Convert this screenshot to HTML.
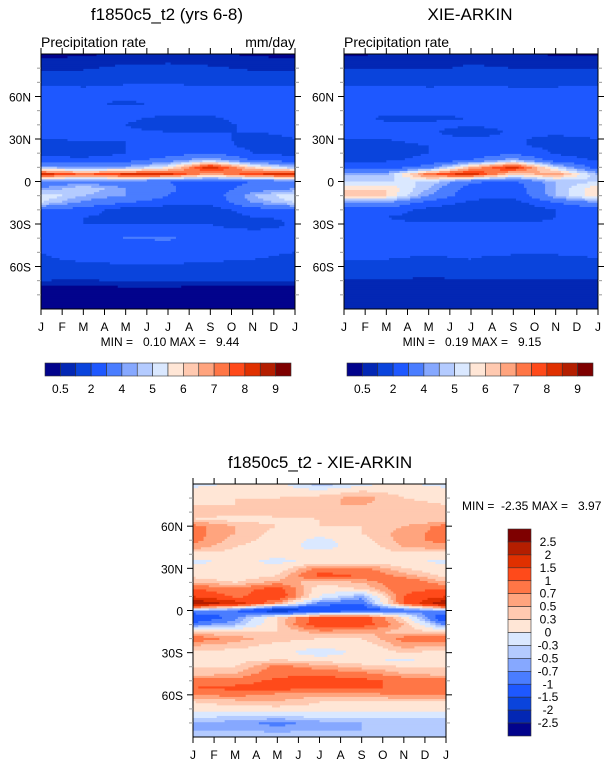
<!DOCTYPE html>
<html><head><meta charset="utf-8">
<style>
body{margin:0;background:#fff;width:611px;height:768px;overflow:hidden;font-family:"Liberation Sans",Arial,sans-serif;}
svg{position:absolute;left:0;top:0}
text{white-space:pre}
</style></head>
<body>
<svg id="chart" width="611" height="768" xmlns="http://www.w3.org/2000/svg" font-family="Liberation Sans, Arial, sans-serif" xml:space="preserve"></svg>
<script>
const months=["J","F","M","A","M","J","J","A","S","O","N","D","J"];
const timeCols=[0,2,4,6,8,10,12];
const lats=[];for(let l=90;l>=-90;l-=5)lats.push(l);
const precipLevels=[0.5,1,2,3,4,4.5,5,5.5,6,6.5,7,7.5,8,8.5,9];
const precipLabels=["0.5","2","4","5","6","7","8","9"];
const precipColors=["#02038c","#0327b4","#0a44dc","#1e58ff","#4a7dff","#86a8ff","#b4cbff","#dae8ff","#ffe6d6","#ffc9b0","#ffa47e","#ff7646","#ff4a1a","#e03000","#b41e00","#7e0000"];
const diffLevels=[-2.5,-2,-1.5,-1,-0.7,-0.5,-0.3,0,0.3,0.5,0.7,1,1.5,2,2.5];
const diffLabels=["-2.5","-2","-1.5","-1","-0.7","-0.5","-0.3","0","0.3","0.5","0.7","1","1.5","2","2.5"];
const diffColors=["#02038c","#0327b4","#0a44dc","#1e58ff","#4a7dff","#86a8ff","#b4cbff","#dae8ff","#ffe6d6","#ffc9b0","#ffa47e","#ff7646","#ff4a1a","#e03000","#b41e00","#7e0000"];
const modelValues=[
[.3,.4,.6,.7,.6,.4,.3],[.6,.7,.8,.9,.8,.7,.6],[.9,.9,1.2,1.2,1.1,.9,.9],[1.2,1.3,1.5,1.5,1.4,1.2,1.2],
[1.8,1.8,1.9,1.9,1.8,1.8,1.8],[2.2,2.1,2.2,2.3,2.2,2.2,2.2],[2.3,2.2,2.1,2.3,2.3,2.3,2.3],[2.3,2.1,1.9,2.1,2.3,2.3,2.3],
[2.2,2.2,2.2,2.2,2.3,2.3,2.2],[2.4,2.2,2.1,1.9,1.9,2.3,2.4],[2.3,2.1,2.0,1.7,1.7,2.2,2.3],[2.1,2.1,2.1,2.0,2.0,2.0,2.1],
[2.0,2.1,2.0,2.1,2.2,1.8,2.0],[1.7,1.6,2.0,2.1,2.3,1.8,1.7],[1.7,1.5,2.0,2.5,3.0,2.0,1.7],[2.5,2.3,2.6,3.5,4.7,3.0,2.5],
[4.5,4.0,4.3,5.5,8.6,6.0,4.5],[8.5,7.5,8.3,8.3,6.5,8.0,8.5],[3.5,3.5,3.5,3.0,2.5,3.0,3.5],[4.0,5.0,4.0,3.2,2.3,3.5,4.0],
[5.5,4.5,4.0,3.0,2.3,4.5,5.5],[5.0,3.8,3.0,2.5,2.2,4.0,5.0],[3.0,2.5,1.5,1.3,1.5,2.5,3.0],[2.1,2.0,1.8,1.4,1.5,2.0,2.1],
[2.1,2.0,2.0,2.0,2.0,1.6,2.1],[2.1,2.2,2.5,2.6,2.2,2.1,2.1],[2.2,2.3,3.1,3.2,2.2,2.2,2.2],[2.2,2.3,2.5,2.5,2.3,2.2,2.2],
[2.0,2.3,2.4,2.3,2.3,2.1,2.0],[1.9,2.1,2.2,2.2,2.1,2.0,1.9],[1.8,1.8,1.9,1.9,1.8,1.8,1.8],[1.4,1.5,1.6,1.7,1.5,1.4,1.4],
[1.0,.9,1.1,1.1,1.0,1.0,1.0],[.4,.4,.4,.4,.4,.4,.4],[.3,.3,.3,.3,.3,.3,.3],[.3,.3,.3,.3,.3,.3,.3],[.3,.3,.3,.3,.3,.3,.3]];
const obsValues=[
[.4,.5,.7,.8,.7,.4,.4],[.7,.8,.8,.9,.8,.7,.7],[.9,.9,.9,1.1,1.0,.9,.9],[1.3,1.3,1.3,1.5,1.4,1.3,1.3],
[1.8,1.8,1.8,1.9,1.8,1.8,1.8],[2.2,2.2,2.1,2.1,2.1,2.1,2.2],[2.2,2.2,2.2,2.2,2.2,2.2,2.2],[2.2,2.2,2.2,2.2,2.2,2.2,2.2],
[2.2,2.2,2.2,2.2,2.2,2.2,2.2],[2.2,1.9,1.9,2.0,2.2,2.2,2.2],[2.2,2.1,2.1,2.1,2.1,2.2,2.2],[2.2,2.1,2.1,1.7,2.1,2.2,2.2],
[2.0,2.0,2.1,2.1,2.1,1.8,2.0],[2.0,1.9,2.0,2.1,2.1,1.8,2.0],[1.6,1.7,2.0,2.3,2.8,1.9,1.6],[1.9,1.9,2.2,3.0,4.5,2.5,1.9],
[2.5,2.5,3.5,6.5,8.5,5.0,2.5],[4.5,4.5,7.5,8.5,6.0,7.0,4.5],[5.0,5.0,5.0,3.2,2.8,4.5,5.0],[6.0,6.0,4.5,2.5,2.3,4.5,6.0],
[6.0,6.0,4.0,2.3,2.2,4.5,6.0],[4.0,4.0,2.6,1.8,1.6,3.0,4.0],[2.5,2.5,1.7,1.2,1.2,2.0,2.5],[2.1,2.0,1.7,1.6,1.6,2.0,2.1],
[2.1,2.1,2.1,2.1,2.1,2.1,2.1],[2.1,2.1,2.3,2.3,2.1,2.1,2.1],[2.1,2.2,2.6,2.6,2.2,2.1,2.1],[2.1,2.1,2.2,2.2,2.1,2.1,2.1],
[2.1,2.1,2.1,2.1,2.1,2.1,2.1],[2.0,2.0,1.9,2.0,1.8,1.8,2.0],[1.7,1.7,1.6,1.6,1.5,1.6,1.7],[1.3,1.3,1.3,1.3,1.3,1.3,1.3],
[.9,.9,.8,.9,.9,.9,.9],[.8,.8,.7,.8,.8,.8,.8],[.8,.8,.8,.8,.8,.8,.8],[.6,.6,.6,.6,.6,.6,.6],[.6,.6,.6,.6,.6,.6,.6]];
const diffValues=[
[-.2,.1,.1,-.5,-.1,.1,-.2],[.2,.2,.2,.1,.3,.2,.2],[.2,.3,.3,.4,.6,.3,.2],[.3,.3,.4,.5,.5,.4,.3],
[.4,.4,.5,.5,.4,.3,.4],[.3,.2,.2,.3,.4,.3,.3],[.8,.5,.3,.3,.3,.5,.8],[.8,.5,.2,.1,.3,.6,.8],
[.8,.4,.2,-.1,.2,.6,.8],[.6,.3,.1,-.1,.1,.5,.6],[.2,.2,.1,.2,.2,.2,.2],[-.1,.1,-.1,.1,.1,.1,-.1],
[.1,.2,.1,.8,.8,.3,.1],[.2,.1,.3,1.1,1.0,.6,.2],[.5,.3,.6,.4,.5,1.0,.5],[1.0,.8,1.2,.1,.3,.9,1.0],
[1.5,.9,1.3,0,-.6,1.0,1.5],[2.5,1.8,.6,-.8,-1.0,1.0,2.5],[-.6,-1.0,-2.0,-1.5,-1.3,-1.0,-.6],[-1.5,-.8,.3,1.2,1.3,.2,-1.5],
[-.8,-.5,.3,1.3,1.2,.5,-.8],[.3,.3,.3,.6,.6,.4,.3],[.9,.6,.4,.3,.3,.8,.9],[.5,.4,.2,.1,.1,.6,.5],
[.2,.2,.1,-.2,.1,.3,.2],[.2,.2,.3,.2,.1,-.1,.2],[.3,.3,.8,.6,.4,.3,.3],[.4,.5,.9,.9,.8,.5,.4],
[.8,.8,1.1,1.2,1.1,.9,.8],[1.0,1.1,1.2,1.0,1.1,.9,1.0],[.7,.8,.6,.6,.6,.7,.7],[.3,.4,.5,.3,.3,.3,.3],
[.2,.2,.2,.2,.2,.2,.2],[-.2,-.3,-.3,-.2,-.2,-.2,-.2],[-.5,-.6,-.8,-.6,-.5,-.5,-.5],[-.5,-.5,-.6,-.5,-.5,-.5,-.5],[-.3,-.3,-.3,-.3,-.3,-.3,-.3]];

const NS="http://www.w3.org/2000/svg";
const svg=document.getElementById('chart');
function mk(tag,attrs,parent){const e=document.createElementNS(NS,tag);for(const k in attrs)e.setAttribute(k,attrs[k]);(parent||svg).appendChild(e);return e;}
function txt(s,x,y,size,anchor,parent){const t=mk('text',{x:x,y:y,'font-size':size,'text-anchor':anchor||'start',fill:'#000'},parent);t.textContent=s;return t;}
function colorFor(v,levels,colors){let i=0;while(i<levels.length&&v>=levels[i])i++;return colors[i];}
function sample(vals,month,lat){
  let ti=0;while(ti<timeCols.length-2&&month>timeCols[ti+1])ti++;
  const ft=(month-timeCols[ti])/(timeCols[ti+1]-timeCols[ti]);
  let li=Math.floor((90-lat)/5);if(li>=lats.length-1)li=lats.length-2;if(li<0)li=0;
  const fl=(lats[li]-lat)/5;
  const a=vals[li][ti],b=vals[li][ti+1],c=vals[li+1][ti],d=vals[li+1][ti+1];
  return (a*(1-ft)+b*ft)*(1-fl)+(c*(1-ft)+d*ft)*fl;
}
function panel(name,x0,y0,w,h,vals,levels,colors){
  const g=mk('g',{});
  
  
  const xS=m=>x0+m/12*w, yS=l=>y0+(90-l)/180*h;
  const NC=96,NR=120;
  for(let r=0;r<NR;r++){
    const lat=90-(r+0.5)*180/NR;
    const yt=yS(90-r*180/NR), yb=yS(90-(r+1)*180/NR);
    let startC=0,cur=null;
    for(let c=0;c<=NC;c++){
      let col=null;
      if(c<NC){const m=(c+0.5)*12/NC;col=colorFor(sample(vals,m,lat),levels,colors);}
      if(c===0){cur=col;startC=0;continue;}
      if(col!==cur){
        const xa=xS(startC*12/NC),xb=xS(c*12/NC);
        const rc=mk('rect',{x:xa.toFixed(2),y:yt.toFixed(2),width:(xb-xa+0.4).toFixed(2),height:(yb-yt+0.4).toFixed(2),fill:cur},g);
        
        
        cur=col;startC=c;
      }
    }
  }
  mk('rect',{x:x0,y:y0,width:w,height:h,fill:'none',stroke:'#000','stroke-width':1},g);
  months.forEach((m,i)=>{
    const x=xS(i);
    mk('line',{x1:x,x2:x,y1:y0+h,y2:y0+h+6,stroke:'#000'},g);
    mk('line',{x1:x,x2:x,y1:y0,y2:y0-6,stroke:'#000'},g);
    const t=txt(m,x,y0+h+22,12,'middle',g);
    
    
  });
  for(let l=-80;l<=80;l+=10){
    const y=yS(l),major=(l%30===0);
    const len=major?6:4,st=major?'#000':'#999';
    mk('line',{x1:x0,x2:x0-len,y1:y,y2:y,stroke:st},g);
    mk('line',{x1:x0+w,x2:x0+w+len,y1:y,y2:y,stroke:st},g);
    if(major){
      const lab=l===0?'0':(Math.abs(l)+(l>0?'N':'S'));
      const t=txt(lab,x0-10,y+5,12,'end',g);
      
      
    }
  }
  return g;
}
panel('model-panel',41,54,254,255,modelValues,precipLevels,precipColors);
panel('obs-panel',344,54,254,255,obsValues,precipLevels,precipColors);
panel('diff-panel',193,484,253,253,diffValues,diffLevels,diffColors);

function named(t,n){return t;}
named(txt('f1850c5_t2 (yrs 6-8)',167,20,17,'middle'),'model-title');
named(txt('XIE-ARKIN',470,20,17,'middle'),'obs-title');
named(txt('Precipitation rate',41,47,14,'start'),'model-subtitle');
named(txt('mm/day',295,47,14,'end'),'units-label');
named(txt('Precipitation rate',344,47,14,'start'),'obs-subtitle');
named(txt('MIN =   0.10 MAX =   9.44',170,346,12,'middle'),'model-minmax');
named(txt('MIN =   0.19 MAX =   9.15',472,346,12,'middle'),'obs-minmax');
named(txt('f1850c5_t2 - XIE-ARKIN',320,468,17,'middle'),'diff-title');
named(txt('MIN =  -2.35 MAX =   3.97',462,510,12,'start'),'diff-minmax');

function hbar(name,x0,y0,w,h){
  const g=mk('g',{});
  
  
  const bw=w/precipColors.length;
  precipColors.forEach((c,i)=>{
    const r=mk('rect',{x:x0+i*bw,y:y0,width:bw,height:h,fill:c,stroke:'#333','stroke-width':0.6},g);
    
    
  });
  precipLabels.forEach((s,j)=>{
    const i=1+2*j;
    const t=txt(s,x0+i*bw,y0+h+17,12,'middle',g);
    
    
  });
}
hbar('model-colorbar',45,363,246,13);
hbar('obs-colorbar',347,363,246,13);
(function(){
  const g=mk('g',{});
  
  
  const x0=508,y0=529,w=23,H=207,n=diffColors.length,bh=H/n;
  for(let i=0;i<n;i++){
    const c=diffColors[n-1-i];
    const r=mk('rect',{x:x0,y:y0+i*bh,width:w,height:bh,fill:c,stroke:'#333','stroke-width':0.6},g);
    
    
  }
  for(let k=0;k<diffLabels.length;k++){
    const i=diffLabels.length-1-k;
    const y=y0+(i+1)*bh;
    const t=txt(diffLabels[k],548,y+4,12,'middle',g);
    
    
  }
})();
</script>
</body></html>
